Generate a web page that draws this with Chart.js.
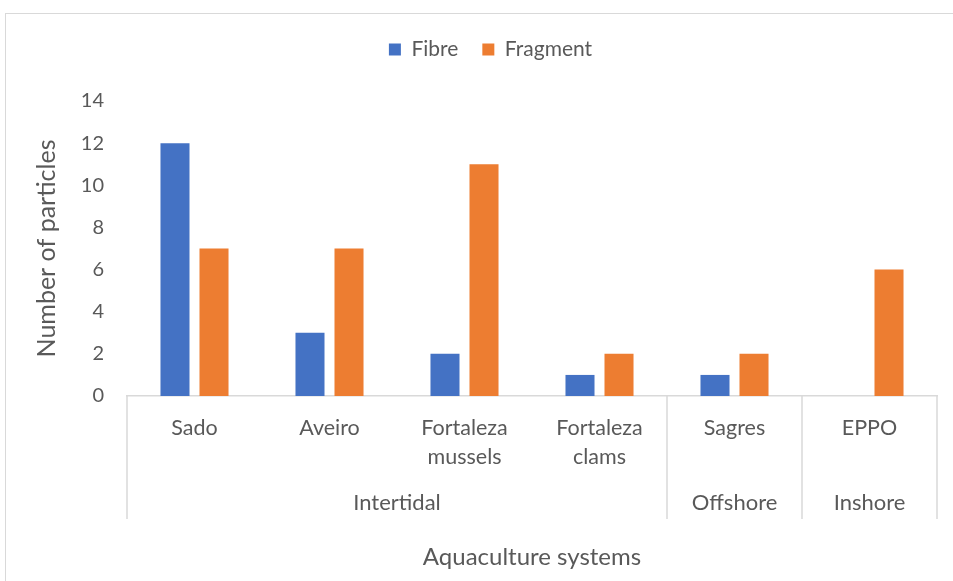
<!DOCTYPE html>
<html>
<head>
<meta charset="utf-8">
<script src="https://cdn.jsdelivr.net/npm/chart.js@4"></script>
<style>
  html, body { margin: 0; padding: 0; background: #fff; }
  #wrap { position: relative; width: 953px; height: 581px; overflow: hidden; }
  #frame { position: absolute; left: 5px; top: 13px; width: 980px; height: 600px; border: 1px solid #d9d9d9; box-sizing: border-box; }
  canvas { position: absolute; left: 0; top: 0; }
</style>
</head>
<body>
<div id="wrap">
  <div id="frame"></div>
  <canvas id="grafico" width="953" height="581"></canvas>
</div>
<script>
// categorias (nível 1) e grupos (nível 2)
const categorias = ['Sado', 'Aveiro', ['Fortaleza', 'mussels'], ['Fortaleza', 'clams'], 'Sagres', 'EPPO'];
const grupos = ['Intertidal', 'Offshore', 'Inshore'];
const gruposTamanho = [4, 1, 1];
const fibra = [12, 3, 2, 1, 1, 0];
const fragmento = [7, 7, 11, 2, 2, 6];
const eixoY = { min: 0, max: 14, passo: 2 };

const corTexto = '#595959';
const corLinha = '#d9d9d9';
const fonte = 'Lato, "Open Sans", sans-serif';

// desenha o segundo nível do eixo x e os separadores
const eixoMultinivel = {
    id: 'eixoMultinivel',
    afterDraw(chart) {
        const ctx = chart.ctx;
        const x = chart.scales.x;
        const area = chart.chartArea;
        const fim = area.bottom + 123;
        const meio = (i) => (x.getPixelForValue(i - 1) + x.getPixelForValue(i)) / 2;

        ctx.save();
        ctx.strokeStyle = corLinha;
        ctx.lineWidth = 1.5;

        let inicio = 0;
        const bordas = [area.left];
        gruposTamanho.forEach((n) => {
            inicio += n;
            bordas.push(inicio >= categorias.length ? area.right : meio(inicio));
        });
        bordas.forEach((b) => {
            ctx.beginPath();
            ctx.moveTo(b, area.bottom);
            ctx.lineTo(b, fim);
            ctx.stroke();
        });

        ctx.fillStyle = corTexto;
        ctx.font = '22px ' + fonte;
        ctx.textAlign = 'center';
        ctx.textBaseline = 'middle';
        grupos.forEach((g, i) => {
            ctx.fillText(g, (bordas[i] + bordas[i + 1]) / 2, area.bottom + 107);
        });
        ctx.restore();
    }
};

// legenda mais alta e um pouco à direita, como no original
const ajusteLegenda = {
    id: 'ajusteLegenda',
    beforeLayout(chart) {
        const l = chart.legend;
        if (l && !l._ajustada) {
            const fitOriginal = l.fit;
            l.fit = function () {
                fitOriginal.call(this);
                this.height = 86;
            };
            l._ajustada = true;
        }
    },
    afterLayout(chart) {
        const l = chart.legend;
        if (l) {
            l.left += 12;
            l.right += 12;
        }
    }
};

const ctx = document.getElementById('grafico').getContext('2d');
new Chart(ctx, {
    type: 'bar',
    data: {
        labels: categorias,
        datasets: [
            { label: 'Fibre', data: fibra, backgroundColor: '#4472c4' },
            { label: 'Fragment', data: fragmento, backgroundColor: '#ed7d31' }
        ]
    },
    options: {
        responsive: false,
        animation: false,
        categoryPercentage: 0.578,
        barPercentage: 0.744,
        layout: { padding: { left: 20, right: 16, top: 15, bottom: 9 } },
        plugins: {
            legend: {
                position: 'top',
                labels: {
                    color: corTexto,
                    font: { family: fonte, size: 21 },
                    boxWidth: 12,
                    boxHeight: 12,
                    padding: 24
                }
            },
            tooltip: { enabled: false }
        },
        scales: {
            x: {
                grid: { display: false },
                border: { color: corLinha, width: 1.5 },
                ticks: {
                    color: corTexto,
                    font: { family: fonte, size: 21.5, lineHeight: 1.35 },
                    padding: 10,
                    maxRotation: 0,
                    autoSkip: false
                },
                title: {
                    display: true,
                    text: 'Aquaculture systems',
                    color: corTexto,
                    font: { family: fonte, size: 24 },
                    padding: { top: 0, bottom: 0 }
                },
                afterFit: (s) => { s.height = 176; }
            },
            y: {
                min: eixoY.min,
                max: eixoY.max,
                grid: { display: false },
                border: { display: false },
                ticks: {
                    stepSize: eixoY.passo,
                    color: corTexto,
                    font: { family: fonte, size: 20 },
                    padding: 15
                },
                title: {
                    display: true,
                    text: 'Number of particles',
                    color: corTexto,
                    font: { family: fonte, size: 25 },
                    padding: { top: 12, bottom: 0 }
                },
                afterFit: (s) => { s.width = 107; }
            }
        }
    },
    plugins: [eixoMultinivel, ajusteLegenda]
});
</script>
</body>
</html>
